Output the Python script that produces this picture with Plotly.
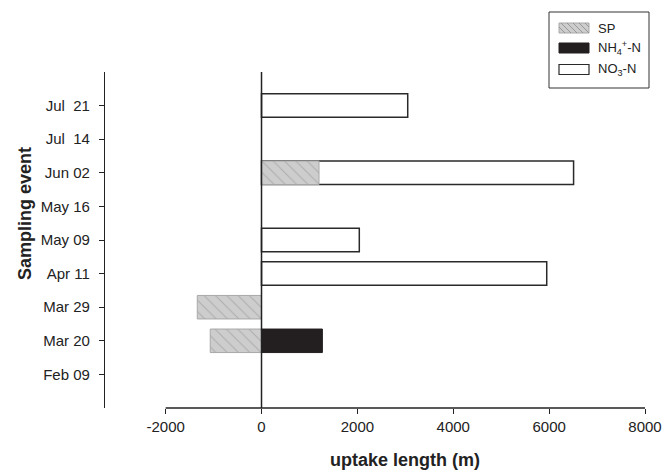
import plotly.graph_objects as go

# ---- data ----
dates = ["Feb 09", "Mar 20", "Mar 29", "Apr 11", "May 09", "May 16", "Jun 02", "Jul\u00a0 14", "Jul\u00a0 21"]
sp_values = [None, -1070, -1340, None, None, None, 1200, None, None]
nh4_values = [None, 1270, None, None, None, None, None, None, None]
no3_values = [None, None, None, 5950, 2040, None, 6510, None, 3050]
x_tick_values = [-2000, 0, 2000, 4000, 6000, 8000]
x_tick_labels = ["-2000", "0", "2000", "4000", "6000", "8000"]
legend_labels = ["SP", "NH<sub>4</sub><sup>+</sup>-N", "NO<sub>3</sub>-N"]

# ---- layout geometry (pixels) ----
W, H = 665, 470
L, R, T, B = 105, 20, 72, 62
PW, PH = W - L - R, H - T - B


def px(x):
    return (x - L) / PW


def py(y):
    return (H - B - y) / PH


AX = "#222222"

fig = go.Figure()
fig.add_trace(go.Bar(
    y=dates, x=no3_values, orientation="h", width=0.7, name="NO3-N",
    marker=dict(color="white", line=dict(color="#2a2a2a", width=1.5)),
))
fig.add_trace(go.Bar(
    y=dates, x=nh4_values, orientation="h", width=0.7, name="NH4-N",
    marker=dict(color="#231f20", line=dict(color="#231f20", width=1)),
))
fig.add_trace(go.Bar(
    y=dates, x=sp_values, orientation="h", width=0.7, name="SP",
    marker=dict(color="#cdcdcd", line=dict(color="#a8a8a8", width=1),
                pattern=dict(shape="\\", fgcolor="#8a8a8a", bgcolor="#cdcdcd",
                             size=8, solidity=0.12)),
))

shapes = []
# zero line
shapes.append(dict(type="line", xref="x", yref="paper", x0=0, x1=0, y0=0, y1=1,
                   line=dict(color=AX, width=1.5), layer="above"))
# bottom axis line (spans only the tick range)
shapes.append(dict(type="line", xref="x", yref="paper", x0=x_tick_values[0], x1=x_tick_values[-1],
                   y0=0, y1=0, line=dict(color=AX, width=1.3), layer="above"))

# ---- manual legend ----
shapes.append(dict(type="rect", xref="paper", yref="paper",
                   x0=px(549), x1=px(649), y0=py(12), y1=py(88),
                   line=dict(color="#333333", width=1), fillcolor="white", layer="above"))
sw_x0, sw_x1 = 559, 589
rows = [28, 48, 69.5]
hh = 5
# SP swatch with hatch
y0s, y1s = rows[0] - hh, rows[0] + hh
shapes.append(dict(type="rect", xref="paper", yref="paper",
                   x0=px(sw_x0), x1=px(sw_x1), y0=py(y0s), y1=py(y1s),
                   line=dict(color="#a8a8a8", width=1), fillcolor="#cdcdcd", layer="above"))
step = 6
k = sw_x0 - 10
while k < sw_x1:
    xa, ya = k, y0s
    xb, yb = k + (y1s - y0s), y1s
    if xa < sw_x0:
        ya = ya + (sw_x0 - xa)
        xa = sw_x0
    if xb > sw_x1:
        yb = yb - (xb - sw_x1)
        xb = sw_x1
    if xb > xa:
        shapes.append(dict(type="line", xref="paper", yref="paper",
                           x0=px(xa), x1=px(xb), y0=py(ya), y1=py(yb),
                           line=dict(color="#8a8a8a", width=0.8), layer="above"))
    k += step
# NH4 swatch
shapes.append(dict(type="rect", xref="paper", yref="paper",
                   x0=px(sw_x0), x1=px(sw_x1), y0=py(rows[1] - hh), y1=py(rows[1] + hh),
                   line=dict(color="#231f20", width=1), fillcolor="#231f20", layer="above"))
# NO3 swatch
shapes.append(dict(type="rect", xref="paper", yref="paper",
                   x0=px(sw_x0), x1=px(sw_x1), y0=py(rows[2] - hh), y1=py(rows[2] + hh),
                   line=dict(color="#2a2a2a", width=1.2), fillcolor="white", layer="above"))

annotations = []
for lab, ry in zip(legend_labels, rows):
    annotations.append(dict(text=lab, xref="paper", yref="paper", x=px(596), y=py(ry),
                            xanchor="left", yanchor="middle", showarrow=False,
                            font=dict(size=13, color=AX)))
# axis titles
annotations.append(dict(text="<b>uptake length (m)</b>", xref="x", yref="paper",
                        x=(x_tick_values[0] + x_tick_values[-1]) / 2, y=py(460),
                        xanchor="center", yanchor="middle", showarrow=False,
                        font=dict(size=18, color=AX)))
annotations.append(dict(text="<b>Sampling event</b>", xref="paper", yref="paper",
                        x=px(25), y=py(214), textangle=-90,
                        xanchor="center", yanchor="middle", showarrow=False,
                        font=dict(size=18, color=AX)))

fig.update_layout(
    width=W, height=H, autosize=False,
    margin=dict(l=L, r=R, t=T, b=B, pad=0),
    paper_bgcolor="white", plot_bgcolor="white",
    barmode="overlay", showlegend=False,
    font=dict(family="Liberation Sans, Arial, sans-serif", size=15, color=AX),
    shapes=shapes, annotations=annotations,
    xaxis=dict(range=[-3265, 8000], tickvals=x_tick_values, ticktext=x_tick_labels,
               showline=False, showgrid=False, zeroline=False, automargin=False,
               ticks="outside", ticklen=5, tickwidth=1.2, tickcolor=AX,
               tickfont=dict(size=15)),
    yaxis=dict(type="category", categoryorder="array", categoryarray=dates,
               range=[-1, 9], showline=True, linecolor=AX, linewidth=1.3,
               showgrid=False, zeroline=False, automargin=False,
               ticks="outside", ticklen=5, tickwidth=1.2, tickcolor=AX,
               ticklabelstandoff=6, tickfont=dict(size=15)),
)

fig.write_html("out.html", config={"displayModeBar": False},
               post_script="document.body.style.margin='0';document.body.style.padding='0';")
